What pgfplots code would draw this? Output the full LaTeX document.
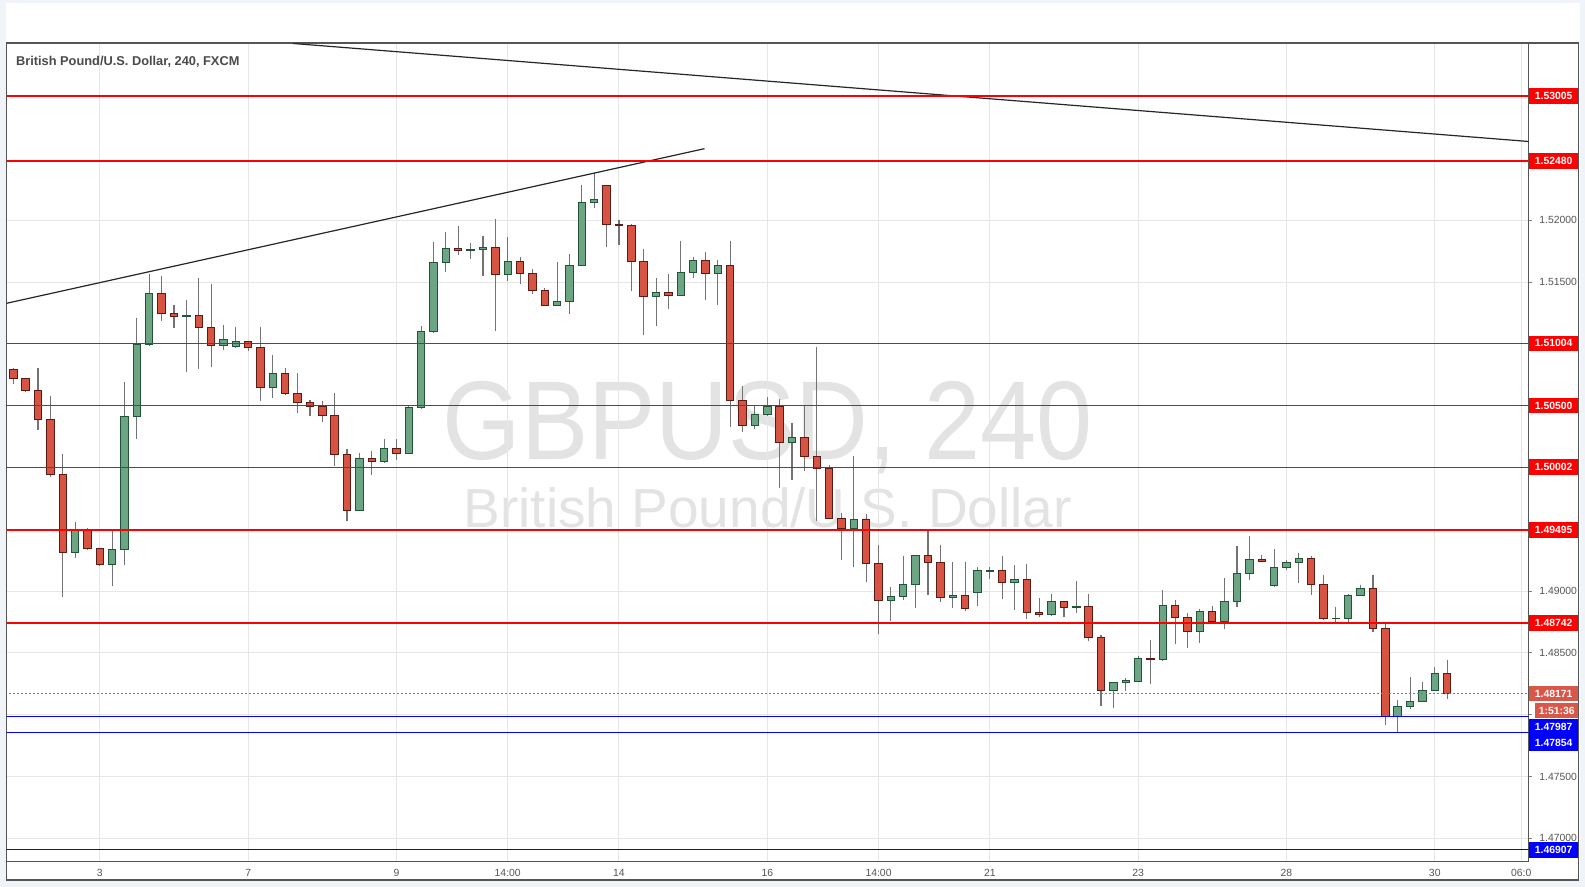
\documentclass[border=0pt]{standalone}
\usepackage{fontspec}
\setmainfont{Liberation Sans}
\usepackage{graphicx}
\usepackage{pgfplots}
\usepackage{pgfplotstable}
\pgfplotsset{compat=1.18}
\usepgfplotslibrary{statistics}

\definecolor{bgc}{RGB}{240,243,248}
\definecolor{framec}{RGB}{85,85,85}
\definecolor{gridc}{RGB}{230,230,230}
\definecolor{upf}{RGB}{107,165,131}
\definecolor{upb}{RGB}{34,84,55}
\definecolor{dnf}{RGB}{215,84,66}
\definecolor{dnb}{RGB}{91,26,19}
\definecolor{wick}{RGB}{115,115,117}
\definecolor{lvlred}{RGB}{255,0,0}
\definecolor{lvlblue}{RGB}{0,0,255}
\definecolor{cur}{RGB}{217,87,72}
\definecolor{wm}{RGB}{227,227,227}
\definecolor{titlec}{RGB}{74,74,74}
\definecolor{tickc}{RGB}{85,85,85}

% GBPUSD 4h candles: index, open, high, low, close
\pgfplotstableread{
i o h l c
0 1.50790 1.50807 1.50675 1.50718
1 1.50718 1.50725 1.50613 1.50621
2 1.50621 1.50801 1.50305 1.50388
3 1.50388 1.50576 1.49926 1.49945
4 1.49945 1.50109 1.48952 1.49309
5 1.49309 1.49561 1.49266 1.49494
6 1.49494 1.49513 1.49330 1.49341
7 1.49341 1.49352 1.49205 1.49212
8 1.49212 1.49489 1.49040 1.49333
9 1.49333 1.50688 1.49210 1.50412
10 1.50412 1.51212 1.50232 1.50992
11 1.50992 1.51569 1.50981 1.51410
12 1.51410 1.51550 1.51182 1.51249
13 1.51249 1.51317 1.51126 1.51225
14 1.51224 1.51357 1.50772 1.51227
15 1.51227 1.51534 1.50796 1.51129
16 1.51129 1.51486 1.50812 1.50984
17 1.50984 1.51155 1.50949 1.51032
18 1.50976 1.51139 1.50973 1.51016
19 1.51016 1.51027 1.50941 1.50968
20 1.50968 1.51139 1.50538 1.50646
21 1.50646 1.50906 1.50562 1.50758
22 1.50758 1.50807 1.50590 1.50597
23 1.50597 1.50761 1.50442 1.50525
24 1.50525 1.50549 1.50417 1.50493
25 1.50493 1.50541 1.50369 1.50420
26 1.50420 1.50600 1.50015 1.50106
27 1.50106 1.50149 1.49564 1.49655
28 1.49655 1.50117 1.49650 1.50074
29 1.50074 1.50133 1.49942 1.50050
30 1.50050 1.50229 1.50039 1.50154
31 1.50154 1.50229 1.50063 1.50114
32 1.50114 1.50501 1.50110 1.50484
33 1.50484 1.51145 1.50480 1.51096
34 1.51096 1.51824 1.51090 1.51660
35 1.51660 1.51904 1.51585 1.51773
36 1.51773 1.51953 1.51722 1.51757
37 1.51757 1.51816 1.51690 1.51763
38 1.51765 1.51872 1.51545 1.51781
39 1.51781 1.52006 1.51102 1.51563
40 1.51563 1.51864 1.51512 1.51668
41 1.51668 1.51700 1.51488 1.51571
42 1.51571 1.51606 1.51400 1.51435
43 1.51435 1.51451 1.51310 1.51314
44 1.51314 1.51663 1.51310 1.51346
45 1.51346 1.51725 1.51239 1.51636
46 1.51636 1.52283 1.51630 1.52143
47 1.52143 1.52385 1.52103 1.52167
48 1.52280 1.52288 1.51786 1.51966
49 1.51966 1.51998 1.51802 1.51960
50 1.51958 1.51969 1.51424 1.51668
51 1.51668 1.51767 1.51072 1.51386
52 1.51386 1.51534 1.51142 1.51419
53 1.51419 1.51566 1.51279 1.51394
54 1.51394 1.51832 1.51390 1.51580
55 1.51580 1.51703 1.51529 1.51676
56 1.51676 1.51743 1.51351 1.51571
57 1.51571 1.51679 1.51311 1.51636
58 1.51636 1.51832 1.50329 1.50544
59 1.50544 1.50656 1.50289 1.50340
60 1.50340 1.50498 1.50313 1.50428
61 1.50428 1.50568 1.50425 1.50493
62 1.50493 1.50552 1.49830 1.50203
63 1.50203 1.50358 1.49902 1.50243
64 1.50243 1.50498 1.49975 1.50090
65 1.50090 1.50978 1.49564 1.49993
66 1.49993 1.50020 1.49583 1.49588
67 1.49588 1.49634 1.49250 1.49510
68 1.49510 1.50093 1.49196 1.49575
69 1.49575 1.49626 1.49073 1.49220
70 1.49220 1.49376 1.48654 1.48922
71 1.48922 1.49030 1.48759 1.48955
72 1.48955 1.49287 1.48928 1.49051
73 1.49051 1.49295 1.48863 1.49285
74 1.49285 1.49499 1.48968 1.49228
75 1.49228 1.49376 1.48912 1.48947
76 1.48947 1.49239 1.48863 1.48963
77 1.48963 1.49239 1.48842 1.48858
78 1.48987 1.49196 1.48879 1.49164
79 1.49162 1.49196 1.49100 1.49166
80 1.49164 1.49287 1.48938 1.49067
81 1.49067 1.49207 1.48847 1.49091
82 1.49091 1.49223 1.48777 1.48826
83 1.48826 1.48941 1.48794 1.48810
84 1.48810 1.48979 1.48800 1.48914
85 1.48914 1.48914 1.48794 1.48866
86 1.48866 1.49078 1.48826 1.48874
87 1.48874 1.48979 1.48600 1.48624
88 1.48624 1.48641 1.48074 1.48198
89 1.48198 1.48262 1.48058 1.48262
90 1.48262 1.48294 1.48195 1.48278
91 1.48270 1.48471 1.48262 1.48455
92 1.48455 1.48603 1.48246 1.48450
93 1.48450 1.49006 1.48437 1.48882
94 1.48882 1.48925 1.48573 1.48786
95 1.48786 1.48820 1.48541 1.48673
96 1.48673 1.48858 1.48582 1.48834
97 1.48834 1.48882 1.48750 1.48753
98 1.48753 1.49102 1.48694 1.48914
99 1.48914 1.49365 1.48871 1.49140
100 1.49140 1.49448 1.49089 1.49253
101 1.49253 1.49295 1.49236 1.49236
102 1.49043 1.49341 1.49040 1.49188
103 1.49188 1.49253 1.49172 1.49228
104 1.49228 1.49312 1.49067 1.49261
105 1.49261 1.49285 1.48968 1.49051
106 1.49051 1.49134 1.48767 1.48777
107 1.48777 1.48874 1.48745 1.48780
108 1.48777 1.48973 1.48745 1.48963
109 1.48963 1.49051 1.48963 1.49019
110 1.49019 1.49134 1.48665 1.48697
111 1.48697 1.48745 1.47913 1.47988
112 1.47988 1.48117 1.47859 1.48069
113 1.48069 1.48305 1.48045 1.48109
114 1.48109 1.48262 1.48101 1.48198
115 1.48198 1.48386 1.48198 1.48335
116 1.48335 1.48442 1.48125 1.48171
}\ohlc

% horizontal levels drawn on the chart
\pgfplotstableread{
x y
-1 1.53005
123 1.53005
nan nan
-1 1.52480
123 1.52480
nan nan
-1 1.51004
123 1.51004
nan nan
-1 1.50500
123 1.50500
nan nan
-1 1.50002
123 1.50002
nan nan
-1 1.49495
123 1.49495
nan nan
-1 1.48742
123 1.48742
}\redlevels
\pgfplotstableread{
x y
-1 1.47987
123 1.47987
nan nan
-1 1.47854
123 1.47854
nan nan
-1 1.46907
123 1.46907
}\bluelevels

\begin{document}
\begin{tikzpicture}
% page background and chart pane
\fill[bgc] (0pt,0pt) rectangle (792.5pt,443.5pt);
\fill[white] (2.85pt,3.5pt) rectangle (790pt,442pt);
\draw[framec, line width=0.6pt] (3.35pt,3.5pt) rectangle (789.15pt,422pt);
% title
\node[anchor=base west, inner sep=0pt, text=titlec, font=\fontsize{6.4}{7}\selectfont\bfseries] at (7.85pt,410.65pt) {British Pound/U.S. Dollar, 240, FXCM};
% watermark
\node[anchor=base, inner sep=0pt, text=wm, font=\fontsize{56}{60}\selectfont] at (383.85pt,213.5pt) {\scalebox{0.9}[1]{GBPUSD, 240}};
\node[anchor=base, inner sep=0pt, text=wm, font=\fontsize{27.5}{30}\selectfont] at (383.85pt,179.7pt) {British Pound/U.S. Dollar};

\begin{axis}[
  at={(3.35pt,12.85pt)}, anchor=south west,
  width=761pt, height=409.15pt, scale only axis,
  xmin=-0.534, xmax=122.6, ymin=1.46814, ymax=1.53434,
  axis line style={draw=framec, line width=0.6pt},
  grid=major, major grid style={draw=gridc, line width=0.5pt},
  xtick={7,19,31,40,49,61,70,79,91,103,115,122},
  xticklabels={3,7,9,14:00,14,16,14:00,21,23,28,30,06:0},
  ytick={1.47,1.475,1.48,1.485,1.49,1.515,1.52},
  yticklabels={1.47000,1.47500,,1.48500,1.49000,1.51500,1.52000},
  yticklabel pos=right, ytick pos=right,
  tick align=outside, major tick length=1.5pt,
  xtick style={draw=none},
  ytick style={line width=0.5pt},
  tick label style={font=\fontsize{5.2}{6}\selectfont, text=tickc},
  xticklabel style={yshift=0.9pt},
  yticklabel style={xshift=0.3pt},
  unbounded coords=jump,
  boxplot/draw direction=y,
  boxplot/box extend=0.6,
  boxplot/whisker extend=0,
  cup/.style={draw=upb, fill=upf, line width=0.5pt,
    boxplot/every whisker/.style={draw=wick, line width=0.55pt},
    boxplot/every median/.style={draw=upb}},
  cdn/.style={draw=dnb, fill=dnf, line width=0.5pt,
    boxplot/every whisker/.style={draw=wick, line width=0.55pt},
    boxplot/every median/.style={draw=dnb}},
  trend/.style={color=black!85, line width=0.6pt, mark=none, solid},
]
% candles
\pgfplotsinvokeforeach{0,...,116}{
  \pgfplotstablegetelem{#1}{o}\of\ohlc \let\vo\pgfplotsretval
  \pgfplotstablegetelem{#1}{h}\of\ohlc \let\vh\pgfplotsretval
  \pgfplotstablegetelem{#1}{l}\of\ohlc \let\vl\pgfplotsretval
  \pgfplotstablegetelem{#1}{c}\of\ohlc \let\vc\pgfplotsretval
  \ifdim\vc pt<\vo pt
    \def\vs{cdn}\let\vlq\vc \let\vuq\vo
  \else
    \def\vs{cup}\let\vlq\vo \let\vuq\vc
  \fi
  \edef\doit{\noexpand\addplot[\vs, boxplot prepared={draw position=#1, lower whisker=\vl, lower quartile=\vlq, median=\vlq, upper quartile=\vuq, upper whisker=\vh}] coordinates {};}
  \doit
}
% trend lines
\addplot[trend] coordinates {(22.63,1.53430) (122.6,1.52637)};
\addplot[trend] coordinates {(-1,1.51318) (55.92,1.52579)};
% horizontal levels
\addplot[color=lvlred, line width=0.7pt, mark=none, solid] table[x=x, y=y] {\redlevels};
\addplot[color=lvlblue, line width=0.7pt, mark=none, solid] table[x=x, y=y] {\bluelevels};
\addplot[color=cur, line width=0.5pt, dash pattern=on 1pt off 1pt, mark=none] coordinates {(-1,1.48171) (123,1.48171)};
% anchors for the price-scale labels
\coordinate (q1) at (axis cs:122.6,1.53005);
\coordinate (q2) at (axis cs:122.6,1.52480);
\coordinate (q3) at (axis cs:122.6,1.51004);
\coordinate (q4) at (axis cs:122.6,1.50500);
\coordinate (q5) at (axis cs:122.6,1.50002);
\coordinate (q6) at (axis cs:122.6,1.49495);
\coordinate (q7) at (axis cs:122.6,1.48742);
\coordinate (q8) at (axis cs:122.6,1.48171);
\coordinate (q9) at (axis cs:122.6,1.48034);
\coordinate (q10) at (axis cs:122.6,1.47901);
\coordinate (q11) at (axis cs:122.6,1.47772);
\coordinate (q12) at (axis cs:122.6,1.46907);
\end{axis}

\tikzset{lab/.style={anchor=west, inner sep=0pt, minimum height=7.8pt, minimum width=24.6pt, text=white, font=\fontsize{5.2}{6}\selectfont\bfseries}}
\node[lab, fill=lvlred] at (q1) {1.53005};
\node[lab, fill=lvlred] at (q2) {1.52480};
\node[lab, fill=lvlred] at (q3) {1.51004};
\node[lab, fill=lvlred] at (q4) {1.50500};
\node[lab, fill=lvlred] at (q5) {1.50002};
\node[lab, fill=lvlred] at (q6) {1.49495};
\node[lab, fill=lvlred] at (q7) {1.48742};
\node[lab, fill=cur] at (q8) {1.48171};
\node[lab, fill=cur, minimum width=21.35pt, minimum height=7.5pt, xshift=3.15pt] at (q9) {1:51:36};
\node[lab, fill=lvlblue, minimum height=8pt] at (q10) {1.47987};
\node[lab, fill=lvlblue, minimum height=8pt] at (q11) {1.47854};
\node[lab, fill=lvlblue] at (q12) {1.46907};

\pgfresetboundingbox
\useasboundingbox (0pt,0pt) rectangle (792.5pt,443.5pt);
\end{tikzpicture}
\end{document}
